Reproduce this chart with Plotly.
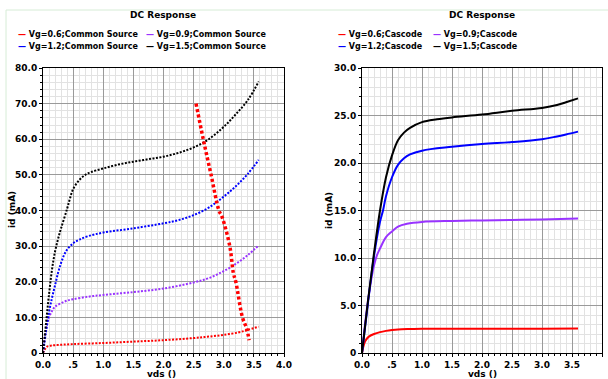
import plotly.graph_objects as go

W, H = 608, 379

# ---------------- data: Common Source (left) ----------------
cs_names = ["Vg=0.6;Common Source", "Vg=0.9;Common Source",
            "Vg=1.2;Common Source", "Vg=1.5;Common Source"]

cs06_x = [0, 0.03, 0.06, 0.1, 0.2, 0.5, 1.0, 1.5, 2.0, 2.5, 2.75, 3.0, 3.25, 3.4, 3.58]
cs06_y = [0, 1.0, 1.7, 2.0, 2.2, 2.5, 2.8, 3.2, 3.6, 4.2, 4.6, 5.1, 5.8, 6.5, 7.4]

cs09_x = [0, 0.05, 0.1, 0.15, 0.2, 0.3, 0.4, 0.5, 0.75, 1.0, 1.5, 2.0, 2.5, 2.75, 3.0, 3.2, 3.4, 3.58]
cs09_y = [0, 6.5, 10.0, 11.8, 13.0, 14.0, 14.7, 15.1, 15.8, 16.3, 17.1, 18.1, 19.8, 21.0, 23.0, 25.0, 27.5, 30.2]

cs12_x = [0, 0.05, 0.1, 0.15, 0.2, 0.25, 0.3, 0.35, 0.4, 0.5, 0.6, 0.75, 1.0, 1.5, 2.0, 2.25, 2.5, 2.75, 3.0, 3.2, 3.4, 3.58]
cs12_y = [0, 6.0, 11.5, 15.5, 19.0, 22.5, 25.3, 27.5, 29.0, 30.8, 31.8, 32.8, 33.8, 35.0, 36.4, 37.3, 38.7, 40.8, 43.9, 46.8, 50.3, 54.2]

cs15_x = [0, 0.05, 0.1, 0.15, 0.2, 0.25, 0.3, 0.4, 0.45, 0.5, 0.6, 0.7, 0.8, 1.0, 1.25, 1.5, 1.75, 2.0, 2.25, 2.5, 2.75, 3.0, 3.2, 3.4, 3.58]
cs15_y = [0, 8.3, 16.5, 23.5, 28.5, 32.0, 35.0, 40.5, 43.5, 46.0, 48.5, 50.0, 50.8, 51.8, 52.9, 53.7, 54.4, 55.1, 56.2, 57.7, 60.0, 63.5, 67.0, 71.0, 76.2]

# overlay red dotted curve on the left chart
ov_x = [2.54, 2.66, 2.79, 2.92, 2.97, 3.1, 3.16, 3.20, 3.31, 3.38, 3.42]
ov_y = [70.0, 60.0, 50.0, 40.0, 38.3, 30.0, 22.4, 20.0, 10.0, 6.9, 3.6]

# ---------------- data: Cascode (right) ----------------
cc_names = ["Vg=0.6;Cascode", "Vg=0.9;Cascode", "Vg=1.2;Cascode", "Vg=1.5;Cascode"]

cc06_x = [0, 0.02, 0.05, 0.08, 0.12, 0.2, 0.3, 0.4, 0.5, 0.6, 0.8, 1.0, 2.0, 3.0, 3.6]
cc06_y = [0, 0.6, 1.2, 1.5, 1.75, 2.0, 2.2, 2.33, 2.42, 2.48, 2.52, 2.54, 2.55, 2.55, 2.57]

cc09_x = [0, 0.05, 0.1, 0.15, 0.2, 0.25, 0.3, 0.4, 0.5, 0.6, 0.75, 1.0, 1.5, 2.0, 2.5, 3.0, 3.6]
cc09_y = [0, 3.0, 5.5, 7.6, 9.2, 10.3, 11.0, 12.2, 12.8, 13.3, 13.6, 13.8, 13.9, 13.95, 14.0, 14.05, 14.15]

cc12_x = [0, 0.1, 0.2, 0.3, 0.35, 0.4, 0.5, 0.6, 0.7, 0.8, 1.0, 1.5, 2.0, 2.5, 3.0, 3.25, 3.4, 3.6]
cc12_y = [0, 5.3, 10.2, 13.8, 15.0, 16.5, 18.5, 19.8, 20.5, 20.9, 21.3, 21.7, 22.0, 22.2, 22.5, 22.8, 23.0, 23.3]

cc15_x = [0, 0.1, 0.2, 0.3, 0.4, 0.5, 0.6, 0.7, 0.8, 1.0, 1.25, 1.5, 2.0, 2.5, 3.0, 3.25, 3.4, 3.6]
cc15_y = [0, 5.5, 10.5, 15.0, 18.5, 20.8, 22.4, 23.2, 23.7, 24.3, 24.6, 24.8, 25.1, 25.5, 25.8, 26.1, 26.4, 26.8]

colors = ["#ff0000", "#9933ff", "#0000ff", "#000000"]

x_tickvals = [0, 0.5, 1.0, 1.5, 2.0, 2.5, 3.0, 3.5, 4.0]
x_ticktext = ["0.0", ".5", "1.0", "1.5", "2.0", "2.5", "3.0", "3.5", "4.0"]
yl_tickvals = [0, 10, 20, 30, 40, 50, 60, 70, 80]
yl_ticktext = ["0", "10.0", "20.0", "30.0", "40.0", "50.0", "60.0", "70.0", "80.0"]
yr_tickvals = [0, 5, 10, 15, 20, 25, 30]
yr_ticktext = ["0", "5.0", "10.0", "15.0", "20.0", "25.0", "30.0"]

FONT = "DejaVu Sans"

fig = go.Figure()

cs_x = [cs06_x, cs09_x, cs12_x, cs15_x]
cs_y = [cs06_y, cs09_y, cs12_y, cs15_y]
for nm, xs, ys, c in zip(cs_names, cs_x, cs_y, colors):
    fig.add_trace(go.Scatter(x=xs, y=ys, name=nm, mode="lines", line_shape="spline",
                             line=dict(color=c, width=2, dash="2px,1.5px"),
                             showlegend=False, xaxis="x", yaxis="y"))
fig.add_trace(go.Scatter(x=ov_x, y=ov_y, name="overlay", mode="lines", line_shape="spline",
                         line=dict(color="#ff0000", width=3.5, dash="3px,2.5px"),
                         showlegend=False, xaxis="x", yaxis="y"))

cc_x = [cc06_x, cc09_x, cc12_x, cc15_x]
cc_y = [cc06_y, cc09_y, cc12_y, cc15_y]
for nm, xs, ys, c in zip(cc_names, cc_x, cc_y, colors):
    fig.add_trace(go.Scatter(x=xs, y=ys, name=nm, mode="lines", line_shape="spline",
                             line=dict(color=c, width=2),
                             showlegend=False, xaxis="x2", yaxis="y2"))

def xax(domain, anchor):
    return dict(domain=domain, anchor=anchor, range=[0, 4.0], automargin=False,
                tickvals=x_tickvals, ticktext=x_ticktext,
                showline=True, linecolor="black", linewidth=1, mirror=True,
                ticks="outside", ticklen=3, tickcolor="black",
                showgrid=True, gridcolor="#9a9a9a", gridwidth=1, zeroline=False,
                minor=dict(dtick=0.1, showgrid=True, gridcolor="#e2e2e2",
                           ticks="outside", ticklen=2, tickcolor="black"),
                tickfont=dict(family=FONT, size=9, color="black", weight="bold"))

def yax(domain, anchor, rng, tv, tt, mdt):
    return dict(domain=domain, anchor=anchor, range=rng, automargin=False,
                tickvals=tv, ticktext=tt,
                showline=True, linecolor="black", linewidth=1, mirror=True,
                ticks="outside", ticklen=3, tickcolor="black",
                showgrid=True, gridcolor="#9a9a9a", gridwidth=1, zeroline=False,
                minor=dict(dtick=mdt, showgrid=True, gridcolor="#e2e2e2",
                           ticks="outside", ticklen=2, tickcolor="black"),
                tickfont=dict(family=FONT, size=9, color="black", weight="bold"))

ydom = [26 / H, 311 / H]
fig.update_layout(
    width=W, height=H, autosize=False, margin=dict(l=0, r=0, t=0, b=0, pad=0),
    paper_bgcolor="white", plot_bgcolor="white", showlegend=False,
    xaxis=xax([43 / W, 284 / W], "y"),
    yaxis=yax(ydom, "x", [0, 80], yl_tickvals, yl_ticktext, 2),
    xaxis2=xax([362 / W, 602 / W], "y2"),
    yaxis2=yax(ydom, "x2", [0, 30], yr_tickvals, yr_ticktext, 1),
)

ann = []
def txt(x, y, s, size=9, xanchor="center", angle=0):
    ann.append(dict(x=x / W, y=1 - y / H, xref="paper", yref="paper", text=s,
                    showarrow=False, xanchor=xanchor, yanchor="middle", textangle=angle,
                    font=dict(family=FONT, size=size, color="black", weight="bold")))

txt(163, 15, "DC Response")
txt(482, 15, "DC Response")

def legend_item(x, y, name, color):
    txt(x, y, '<span style="color:%s">—</span> %s' % (color, name), size=8, xanchor="left")

leg_pos_l = [(16, 35), (144, 35), (16, 46), (144, 46)]
leg_pos_r = [(336, 35), (431, 35), (336, 46), (431, 46)]
for (px, py), nm, c in zip(leg_pos_l, cs_names, colors):
    legend_item(px, py, nm, c)
for (px, py), nm, c in zip(leg_pos_r, cc_names, colors):
    legend_item(px, py, nm, c)

txt(12, 210, "id (mA)", angle=-90)
txt(329, 210, "id (mA)", angle=-90)
txt(161, 374, "vds ()")
txt(482, 374, "vds ()")

fig.update_layout(annotations=ann)

fig.update_layout(shapes=[
    dict(type="line", xref="paper", yref="paper", x0=6 / W, x1=1, y0=1 - 10 / H, y1=1 - 10 / H,
         line=dict(color="#d6ecd6", width=1)),
    dict(type="line", xref="paper", yref="paper", x0=6 / W, x1=6 / W, y0=0, y1=1 - 10 / H,
         line=dict(color="#d6ecd6", width=1)),
])

post = (
    "var s=document.createElement('style');"
    "s.innerHTML='html,body{margin:0!important;padding:0!important;overflow:hidden!important;}';"
    "document.head.appendChild(s);"
)

fig.write_html("out.html", config={"displayModeBar": False}, post_script=post)
